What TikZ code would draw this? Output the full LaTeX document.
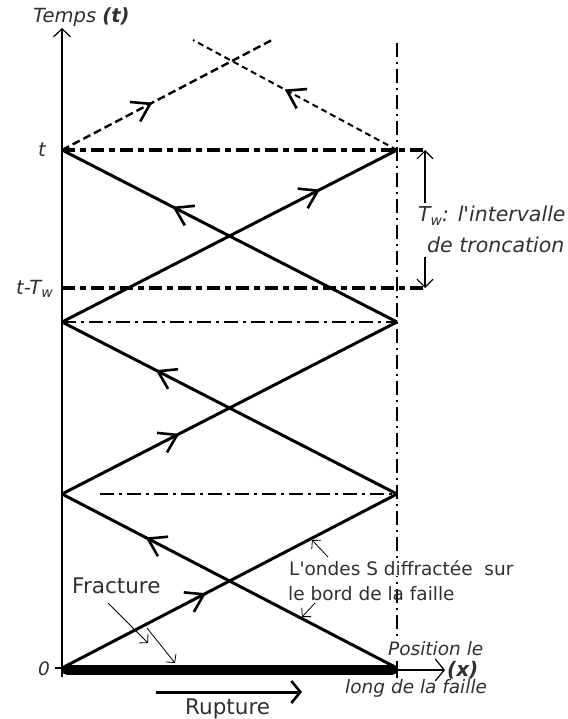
\documentclass[tikz,border=0pt]{standalone}
\usepackage{fontspec}
\setmainfont{DejaVu Sans}
\usetikzlibrary{arrows.meta,decorations.markings}
\definecolor{FigureInk}{HTML}{000000}
\definecolor{LabelInk}{HTML}{303030}
\newcommand{\lowsub}[1]{\raisebox{-0.35ex}{\fontsize{14}{16}\selectfont #1}}
\tikzset{
  figure/.style={x=1pt,y=-1pt,font=\fontsize{18.5}{22}\selectfont,text=LabelInk},
  axis/.style={line width=1.2pt,draw=FigureInk},
  ray/.style={line width=3pt,draw=FigureInk},
  raytip/.style={postaction={decorate},decoration={markings,
    mark=at position #1 with {\arrow{Straight Barb[length=17pt,width=22pt,line width=2.6pt]}}}},
  ghost/.style={line width=2.4pt,draw=FigureInk,dash pattern=on 8pt off 4pt},
  ghostthin/.style={line width=2pt,draw=FigureInk,dash pattern=on 6pt off 4pt},
  level/.style={line width=1.1pt,draw=FigureInk,dash pattern=on 14pt off 5pt on 3pt off 5pt},
  window/.style={line width=4.5pt,draw=FigureInk,dash pattern=on 13pt off 5pt on 6pt off 5pt},
  edge/.style={line width=1.1pt,draw=FigureInk,dash pattern=on 14pt off 5pt on 2pt off 5pt},
  fault/.style={line width=10pt,draw=FigureInk,line cap=round},
  meas/.style={line width=1.1pt,draw=FigureInk,-{Straight Barb[length=8pt,width=16pt]}},
  pointer/.style={line width=0.8pt,draw=FigureInk,-{Straight Barb[length=6pt,width=13pt]}},
  push/.style={line width=3pt,draw=FigureInk,-{Straight Barb[length=9pt,width=22pt,line width=2.6pt]}},
  note/.style={inner sep=0pt,anchor=base west},
  slanted/.style={note,font=\fontsize{19.5}{22}\selectfont\itshape},
  big/.style={note,font=\fontsize{21.5}{24}\selectfont},
}

\begin{document}
\begin{tikzpicture}[figure]
  \useasboundingbox (0,0) rectangle (567,719);

  % bounce points on the two fault ends
  \coordinate (O) at (62,668);
  \coordinate (E) at (397,668);
  \coordinate (L1) at (62,494);
  \coordinate (R1) at (397,494);
  \coordinate (L2) at (62,322);
  \coordinate (R2) at (397,322);
  \coordinate (L3) at (62,150);
  \coordinate (R3) at (397,150);

  % axes
  \coordinate (yfoot) at (62,677);
  \coordinate (ytop) at (62,28);
  \draw[axis,-{Straight Barb[length=8pt,width=17pt]}] (yfoot) -- (ytop);
  \node[slanted] (temps) at (33,23) {Temps \textbf{(t)}};
  \coordinate (zerotick) at (55,668);
  \draw[axis] (zerotick) -- (O);
  \node[font=\fontsize{18.5}{22}\selectfont\itshape,anchor=east,inner sep=0pt] (zero) at (50,669) {0};
  \coordinate (xtip) at (445,670);
  \coordinate (xstart) at (397,670);
  \draw[axis,-{Straight Barb[length=9pt,width=22pt]}] (xstart) -- (xtip);
  \coordinate (tickA) at (397,661);
  \coordinate (tickB) at (397,678);
  \draw[axis] (tickA) -- (tickB);

  % fault edge and time window
  \coordinate (edgetop) at (397,43);
  \coordinate (edgefoot) at (397,640);
  \draw[edge] (edgetop) -- (edgefoot);
  \coordinate (h1) at (100,494);
  \draw[level] (h1) -- (R1);
  \draw[level] (L2) -- (R2);
  \coordinate (w1) at (425,150);
  \coordinate (w0) at (62,288);
  \coordinate (w2) at (425,288);
  \draw[window] (L3) -- (w1);
  \draw[window] (w0) -- (w2);
  \node[font=\fontsize{19.5}{22}\selectfont\itshape,anchor=east,inner sep=0pt] (tnow) at (46,150) {t};
  \node[font=\fontsize{19.5}{22}\selectfont\itshape,anchor=east,inner sep=0pt] (tpast) at (53,289) {t-T\lowsub{w}};

  % rupture bar
  \coordinate (faultA) at (67,670);
  \coordinate (faultB) at (392,670);
  \draw[fault] (faultA) -- (faultB);

  % diffracted S waves going back and forth
  \draw[ray,raytip=0.43] (O) -- (R1);
  \draw[ray,raytip=0.75] (E) -- (L1);
  \draw[ray,raytip=0.35] (L1) -- (R2);
  \draw[ray,raytip=0.72] (R1) -- (L2);
  \draw[ray,raytip=0.77] (L2) -- (R3);
  \draw[ray,raytip=0.67] (R2) -- (L3);
  \coordinate (T1) at (272,40);
  \coordinate (T2) at (193,40);
  \draw[ghost,raytip=0.43] (L3) -- (T1);
  \draw[ghostthin,raytip=0.55] (R3) -- (T2);

  % truncation interval
  \coordinate (twA) at (425,203);
  \coordinate (twB) at (425,257);
  \draw[meas] (twA) -- (w1);
  \draw[meas] (twB) -- (w2);
  \node[slanted,font=\fontsize{20.5}{22}\selectfont\itshape] (twtext) at (418,222) {T\lowsub{w}: l\textquotesingle intervalle};
  \node[slanted,font=\fontsize{20.5}{22}\selectfont\itshape] (twtext2) at (427,252) {de troncation};

  % labels
  \node[note,fill=white,inner sep=1pt] (ondes) at (288,575) {L\textquotesingle ondes S diffractée\ \ sur};
  \node[note] (ondes2) at (288,600) {le bord de la faille};
  \coordinate (onA) at (328,557);
  \coordinate (onB) at (312,540);
  \coordinate (onC) at (315,603);
  \coordinate (onD) at (302,617);
  \draw[pointer] (onA) -- (onB);
  \draw[pointer] (onC) -- (onD);

  \node[big] (fracture) at (72,593) {Fracture};
  \coordinate (frA) at (108,603);
  \coordinate (frB) at (148,643);
  \coordinate (frC) at (147,628);
  \coordinate (frD) at (175,663);
  \draw[pointer] (frA) -- (frB);
  \draw[pointer] (frC) -- (frD);

  \node[slanted,font=\fontsize{18.5}{22}\selectfont\itshape] (pos) at (388,655) {Position le};
  \node[note,font=\fontsize{20}{22}\selectfont\bfseries\itshape] (xlab) at (447,676) {(x)};
  \node[slanted,font=\fontsize{18.5}{22}\selectfont\itshape] (pos2) at (345,693) {long de la faille};

  \coordinate (rupA) at (156,692);
  \coordinate (rupB) at (302,692);
  \draw[push] (rupA) -- (rupB);
  \node[big] (rupture) at (185,714) {Rupture};
\end{tikzpicture}
\end{document}
